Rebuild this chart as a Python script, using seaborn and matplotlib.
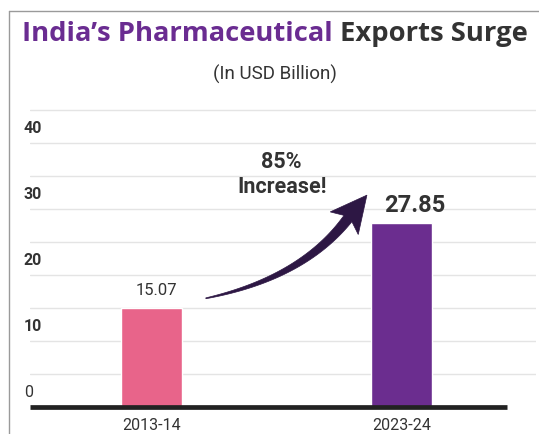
import matplotlib
matplotlib.use("Agg")
import numpy as np
import matplotlib.pyplot as plt
import matplotlib.transforms as mtransforms
from matplotlib.patches import Polygon
from matplotlib.lines import Line2D
import seaborn as sns
import pandas as pd

# Data
years = ["2013-14", "2023-24"]
exports = [15.07, 27.85]
bar_colors = ["#e8648a", "#6b2d8f"]
y_ticks = [0, 10, 20, 30, 40]
growth_note = "85%\nIncrease!"

sns.set_theme(style="white")
plt.rcParams["font.family"] = ["Roboto", "DejaVu Sans"]

W, H = 539, 434
fig = plt.figure(figsize=(W / 100, H / 100), dpi=100)
fig.patch.set_facecolor("white")

# axes placed in pixel terms: data 0 at y=407, 10 units = 66 px
px_left, px_right, px_base, px_top = 30, 536, 407, 103.4
ax = fig.add_axes([px_left / W, (H - px_base) / H,
                   (px_right - px_left) / W, (px_base - px_top) / H])
ax.set_facecolor("none")

df = pd.DataFrame({"year": years, "value": exports})
sns.barplot(data=df, x="year", y="value", hue="year", palette=bar_colors,
            width=0.242, legend=False, ax=ax, zorder=3, saturation=1)

ax.set_xlim(-0.484, 1.536)
ax.set_ylim(0, 46)
for s in ax.spines.values():
    s.set_visible(False)
ax.set_xlabel("")
ax.set_ylabel("")
ax.set_yticks([])
ax.tick_params(axis="x", length=0, pad=8, labelsize=11.5, labelcolor="#333333")

# light horizontal rules every 5 units
for v in range(5, 46, 5):
    ax.axhline(v, color="#e4e4e4", lw=1.0, zorder=1)
# heavy baseline
ax.hlines(0, -0.484, 1.42, color="#222222", lw=3.4, zorder=4, clip_on=False)

# y labels sitting just above their rule
blend = mtransforms.blended_transform_factory(fig.transFigure, ax.transData)
for t in y_ticks:
    ax.text(24 / W, t + 1.0, str(t), transform=blend, ha="left", va="bottom",
            fontsize=11.5, fontweight="normal" if t == 0 else "bold",
            color="#333333")

# value labels
ax.text(0.02, exports[0] + 1.4, f"{exports[0]:.2f}", ha="center", va="bottom",
        fontsize=12, color="#333333")
ax.text(1.05, exports[1] + 0.9, f"{exports[1]:.2f}", ha="center", va="bottom",
        fontsize=17, fontweight="bold", color="#333333")

# curved growth arrow: tapered quadratic shaft plus a swept head
fig.canvas.draw()
to_px = ax.transData.transform
A = to_px((0.218, exports[0] + 1.4))
C = to_px((0.597, exports[0] + 4.4))
B = to_px((0.778, exports[1] + 0.35))
T = to_px((0.861, exports[1] + 4.25))
ts = np.linspace(0, 1, 60)
pts = ((1 - ts) ** 2)[:, None] * A + (2 * (1 - ts) * ts)[:, None] * C + (ts ** 2)[:, None] * B
der = (2 * (1 - ts))[:, None] * (C - A) + (2 * ts)[:, None] * (B - C)
tang = der / np.linalg.norm(der, axis=1)[:, None]
norm = np.column_stack([-tang[:, 1], tang[:, 0]])
half_w = 0.4 + 4.6 * ts ** 0.9
left = pts + norm * half_w[:, None]
right = pts - norm * half_w[:, None]
d = (T - B) / np.linalg.norm(T - B)
n = np.array([-d[1], d[0]])
head = [B + n * 5 + d * 3, B + n * 18 - d * 3, T, B - n * 18 - d * 3, B - n * 5 + d * 3]
outline = np.vstack([left, head, right[::-1]])
ax.add_patch(Polygon(outline, closed=True, transform=None, facecolor="#2d1744",
                     edgecolor="#2d1744", lw=0.5, zorder=5))

ax.text(0.521, 35.2, growth_note, ha="center", va="center", fontsize=15.5,
        fontweight="bold", color="#333333", linespacing=1.2)

# title in two colours, fitted to the frame width
renderer = fig.canvas.get_renderer()
title_parts = [("India’s Pharmaceutical ", "#6a2c91"), ("Exports Surge", "#333333")]
fs = 18.0
probe = fig.text(0, 0, "".join(p for p, _ in title_parts), fontsize=fs,
                 fontweight="bold", family="Open Sans")
fs *= 506 / probe.get_window_extent(renderer).width
probe.remove()
x0 = 22
for part, col in title_parts:
    t = fig.text(x0 / W, 1 - 34 / H, part, ha="left", va="center", fontsize=fs,
                 fontweight="bold", color=col, family="Open Sans")
    x0 = t.get_window_extent(renderer).x1
fig.text(275 / W, 1 - 74 / H, "(In USD Billion)", ha="center", va="center",
         fontsize=13.5, color="#333333")

# outer frame lines
fig.add_artist(Line2D([9 / W, 1], [1 - 11 / H, 1 - 11 / H],
                      transform=fig.transFigure, color="#9a9a9a", lw=1))
fig.add_artist(Line2D([9 / W, 9 / W], [0, 1 - 11 / H],
                      transform=fig.transFigure, color="#9a9a9a", lw=1))

fig.savefig("out.png", dpi=100)
